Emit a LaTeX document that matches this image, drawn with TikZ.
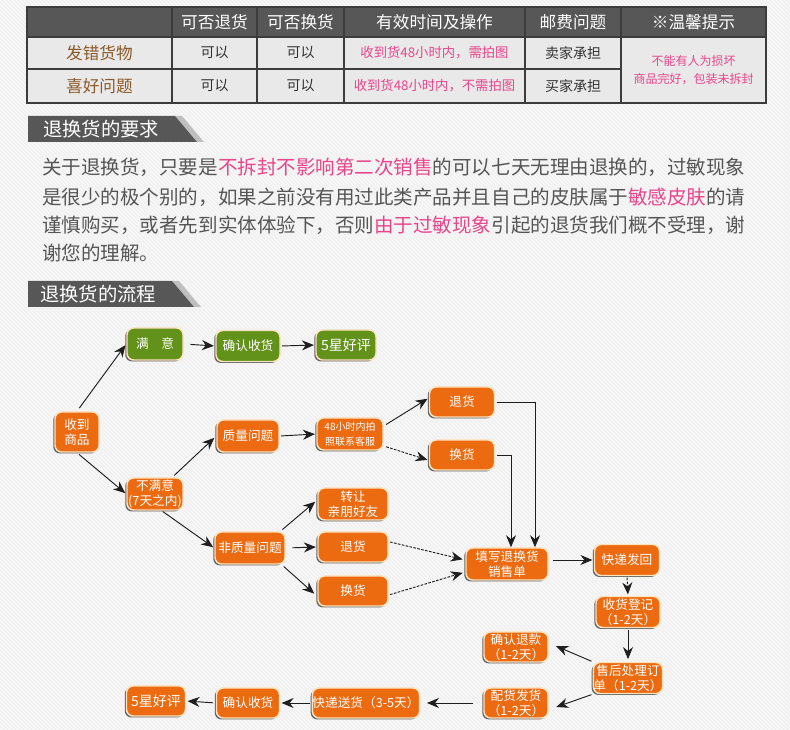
\documentclass[tikz,border=0pt]{standalone}
\usepackage{fontspec}
\setmainfont{Liberation Sans}
\newfontfamily\cjk{Noto Sans CJK SC}
\usetikzlibrary{shadows,arrows.meta,calc,patterns}
\definecolor{bg}{HTML}{F6F6F6}
\definecolor{hdr}{HTML}{575757}
\definecolor{rowc}{HTML}{E9E9E9}
\definecolor{brd}{HTML}{3C3C3C}
\definecolor{pinkc}{HTML}{E8458B}
\definecolor{brownc}{HTML}{8B5A2B}
\definecolor{txtc}{HTML}{555555}
\definecolor{orng}{HTML}{EC6A10}
\definecolor{grn}{HTML}{63921B}
\definecolor{cream}{HTML}{FFE3BF}
\definecolor{linec}{HTML}{1E1E1E}
\begin{document}
\begin{tikzpicture}[x=0.75pt,y=-0.75pt,
  th/.style={text=white,font=\cjk\fontsize{12.5}{14}\selectfont,inner sep=0pt},
  tfirst/.style={text=brownc,font=\cjk\fontsize{12.5}{14}\selectfont,inner sep=0pt},
  tb/.style={text=black!80,font=\cjk\fontsize{10.5}{12}\selectfont,inner sep=0pt},
  tp/.style={text=pinkc,font=\cjk\fontsize{10}{12}\selectfont,inner sep=0pt,align=center},
  tn/.style={text=pinkc,font=\cjk\fontsize{9}{11}\selectfont,inner sep=0pt,align=center},
  para/.style={anchor=west,text=txtc,font=\cjk\fontsize{14.65}{18}\selectfont,inner sep=0pt},
  bantxt/.style={anchor=west,text=white,font=\cjk\fontsize{14.5}{17}\selectfont,inner sep=0pt},
  bx/.style 2 args={rounded corners=5pt,fill=orng,draw=cream,line width=1.1pt,text=white,
    font=\cjk\fontsize{9.5}{11.5}\selectfont,inner sep=0pt,align=center,
    minimum width=#1*0.75pt,minimum height=#2*0.75pt,
    drop shadow={shadow xshift=-1.3pt,shadow yshift=-1.1pt,fill=black!80,opacity=0.75}},
  gbx/.style 2 args={bx={#1}{#2},fill=grn},
  arr/.style={draw=linec,line width=0.7pt,-{Stealth[length=9pt,width=7.5pt]}},
  darr/.style={arr,dash pattern=on 2pt off 1pt},
]
\fill[bg] (0,0) rectangle (790,730);
\fill[pattern=north west lines,pattern color=black!7] (0,0) rectangle (790,730);
\useasboundingbox (0,0) rectangle (790,730);

% ---------- table ----------
\fill[hdr] (27,7) rectangle (766,37);
\fill[rowc] (27,37) rectangle (766,103);
\draw[brd,line width=0.8pt] (27,37) -- (766,37);
\draw[brd,line width=0.8pt] (27,69) -- (621,69);
\foreach \xx in {172,257,344,525,621}
  \draw[brd,line width=0.8pt] (\xx,7) -- (\xx,103);
\draw[brd,line width=1.5pt] (27,7) rectangle (766,103);

\node[th] (h1) at (214.5,22) {可否退货};
\node[th] (h2) at (300.5,22) {可否换货};
\node[th] (h3) at (434.5,22) {有效时间及操作};
\node[th] (h4) at (573,22) {邮费问题};
\node[th] (h5) at (693.5,22) {※温馨提示};

\node[tfirst] (r1c1) at (99.5,53) {发错货物};
\node[tb] (r1c2) at (214.5,53) {可以};
\node[tb] (r1c3) at (300.5,53) {可以};
\node[tp] (r1c4) at (434.5,53) {收到货48小时内，需拍图};
\node[tb] (r1c5) at (573,53) {卖家承担};
\node[tfirst] (r2c1) at (99.5,86) {喜好问题};
\node[tb] (r2c2) at (214.5,86) {可以};
\node[tb] (r2c3) at (300.5,86) {可以};
\node[tp] (r2c4) at (434.5,86) {收到货48小时内，不需拍图};
\node[tb] (r2c5) at (573,86) {买家承担};
\node[tn] (note) at (693.5,70) {不能有人为损坏\\[3pt]商品完好，包装未拆封};

% ---------- banner 1 ----------
\fill[black!25] (175,116) -- (182,116) -- (204,142) -- (197,142) -- cycle;
\fill[hdr] (28,116) -- (175,116) -- (197,142) -- (28,142) -- cycle;
\node[bantxt] (b1) at (43,129.5) {退换货的要求};

\node[para] (p1) at (42,167) {关于退换货，只要是\textcolor{pinkc}{不拆封不影响第二次销售}的可以七天无理由退换的，过敏现象};
\node[para] (p2) at (42,197) {是很少的极个别的，如果之前没有用过此类产品并且自己的皮肤属于\textcolor{pinkc}{敏感皮肤}的请};
\node[para] (p3) at (42,225) {谨慎购买，或者先到实体体验下，否则\textcolor{pinkc}{由于过敏现象}引起的退货我们概不受理，谢};
\node[para] (p4) at (42,253) {谢您的理解。};

% ---------- banner 2 ----------
\fill[black!25] (172,281) -- (179,281) -- (201,307) -- (194,307) -- cycle;
\fill[hdr] (28,281) -- (172,281) -- (194,307) -- (28,307) -- cycle;
\node[bantxt] (b2) at (40,294) {退换货的流程};

% ---------- flow nodes ----------
\node[gbx={56}{32}] (my) at (155,344) {满\quad 意};
\node[gbx={64}{31}] (qr) at (248,346) {确认收货};
\node[gbx={60}{30}] (hp) at (346,345) {\fontsize{10.5}{12}\selectfont 5星好评};
\node[bx={44}{40}] (sd) at (77,432) {收到\\商品};
\node[bx={62}{32}] (zl) at (248,436) {质量问题};
\node[bx={66}{32}] (h48) at (350,434) {\fontsize{7.5}{9.5}\selectfont 48小时内拍\\\fontsize{7.5}{9.5}\selectfont 照联系客服};
\node[bx={65}{30}] (th1) at (462,402) {退货};
\node[bx={65}{30}] (hh1) at (462,455) {换货};
\node[bx={56}{32}] (bm) at (155,494) {不满意\\(7天之内)};
\node[bx={70}{32}] (zr) at (353,504) {转让\\亲朋好友};
\node[bx={70}{32}] (fz) at (250,548) {非质量问题};
\node[bx={70}{30}] (th2) at (353,547) {退货};
\node[bx={70}{30}] (hh2) at (353,591) {换货};
\node[bx={82}{32}] (tx) at (507,564) {填写退换货\\销售单};
\node[bx={65}{31}] (kd) at (627,560) {快递发回};
\node[bx={64}{31}] (sh) at (628,612) {收货登记\\（1-2天）};
\node[bx={64}{30}] (qt) at (516,647) {确认退款\\（1-2天）};
\node[bx={64}{31}] (ch) at (628,678) {售后处理订\\单（1-2天）};
\node[bx={64}{30}] (ph) at (516,703) {配货发货\\（1-2天）};
\node[bx={97}{30}] (ks) at (366,703) {快递送货（3-5天）};
\node[bx={63}{30}] (qs2) at (248,703) {确认收货};
\node[bx={59}{30}] (hp2) at (156,701) {\fontsize{10.5}{12}\selectfont 5星好评};

% ---------- connectors ----------
\draw[arr,shorten <=3pt,shorten >=1pt] (sd.north) -- (my.west);
\draw[arr,shorten <=2pt,shorten >=1pt] (sd.south) -- (bm.west);
\draw[arr,shorten <=5pt,shorten >=1pt] (my.east) -- (qr.west);
\draw[arr,shorten <=1pt,shorten >=1pt] (qr.east) -- (hp.west);
\draw[arr,shorten <=2pt,shorten >=2pt] ([xshift=13pt]bm.north) -- (zl.west);
\draw[arr,shorten <=1pt,shorten >=1pt] (zl.east) -- (h48.west);
\draw[arr,shorten <=2pt,shorten >=1pt] ([yshift=6pt]h48.east) -- ([yshift=3pt]th1.west);
\draw[darr,shorten <=2pt,shorten >=1pt] ([yshift=-9pt]h48.east) -- ([yshift=-4pt]hh1.west);
\draw[arr,shorten <=1pt] (th1.east) -| ([xshift=21pt]tx.north);
\draw[arr,shorten <=1pt] (hh1.east) -| ([xshift=3pt]tx.north);
\draw[arr,shorten <=2pt,shorten >=2pt] ([xshift=-4pt]fz.north east) -- ([yshift=3pt]zr.west);
\draw[arr,shorten <=5pt,shorten >=1pt] (fz.east) -- (th2.west);
\draw[arr,shorten <=2pt,shorten >=3pt] ([xshift=-3pt]fz.south east) -- ([yshift=-4pt]hh2.west);
\draw[darr,shorten <=1pt,shorten >=2pt] ([yshift=4pt]th2.east) -- ([yshift=3pt]tx.west);
\draw[darr,shorten <=1pt,shorten >=2pt] ([yshift=-3pt]hh2.east) -- ([yshift=-6pt]tx.west);
\draw[arr,shorten <=1pt,shorten >=1pt] ([xshift=5pt]bm.south) -- (fz.west);
\draw[arr,shorten <=3pt,shorten >=1pt] (tx.east |- kd) -- (kd.west);
\draw[darr,shorten <=1pt,shorten >=1pt] (kd.south) -- (sh.north);
\draw[arr,shorten <=1pt,shorten >=2pt] (sh.south) -- (ch.north);
\draw[arr,shorten <=1pt,shorten >=6pt] (ch.north west) -- ([yshift=3pt]qt.east);
\draw[arr,shorten <=1pt,shorten >=6pt] (ch.south west) -- ([yshift=-5pt]ph.east);
\draw[arr,shorten <=8pt,shorten >=5pt] (ph.west) -- (ks.east);
\draw[arr,shorten <=1pt,shorten >=1pt] (ks.west) -- (qs2.east);
\draw[arr,shorten <=2pt,shorten >=1pt] (qs2.west) -- (hp2.east);
\end{tikzpicture}
\end{document}
